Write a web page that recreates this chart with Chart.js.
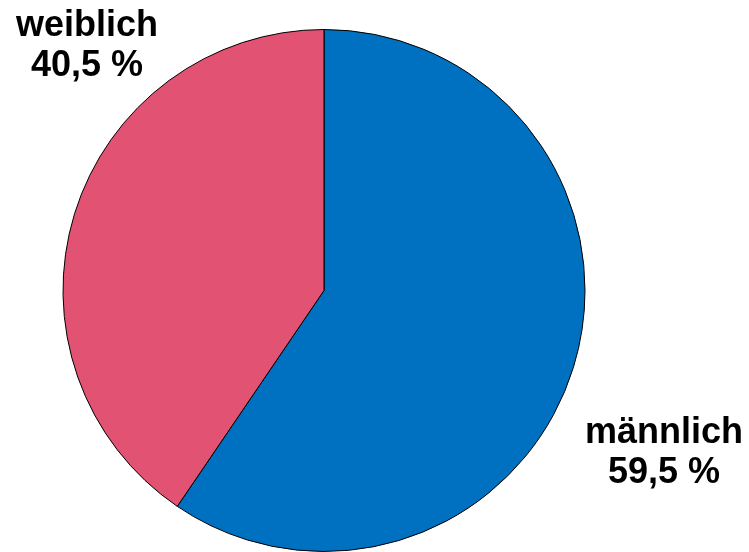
<!DOCTYPE html>
<html>
<head>
<meta charset="utf-8">
<script src="https://cdn.jsdelivr.net/npm/chart.js@4"></script>
<style>
  html, body { margin: 0; padding: 0; background: #fff; }
  #wrap { width: 749px; height: 552px; }
</style>
</head>
<body>
<div id="wrap"><canvas id="genderChart"></canvas></div>
<script>
// data
var categories = ["männlich", "weiblich"];
var shares = [59.5, 40.5];
var sliceColors = ["rgb(0, 112, 192)", "rgb(226, 83, 115)"];

// label text drawn next to the pie
var pieLabels = {
  id: "pieLabels",
  afterDraw: function(chart) {
    var ctx = chart.ctx;
    ctx.save();
    ctx.fillStyle = "#000";
    ctx.font = "bold 36px 'Liberation Sans', Arial, sans-serif";
    ctx.textAlign = "center";
    ctx.textBaseline = "alphabetic";
    var spots = [[664, 443], [87, 36]];
    for (var i = 0; i < categories.length; i++) {
      var txt = shares[i].toFixed(1).replace(".", ",") + " %";
      ctx.fillText(categories[i], spots[i][0], spots[i][1]);
      ctx.fillText(txt, spots[i][0], spots[i][1] + 40);
    }
    ctx.restore();
  }
};

var config = {
  type: "pie",
  data: {
    labels: categories,
    datasets: [{
      data: shares,
      backgroundColor: sliceColors,
      borderColor: "#000",
      borderWidth: 1
    }]
  },
  options: {
    responsive: true,
    maintainAspectRatio: false,
    animation: false,
    layout: { padding: { left: 62, right: 163, top: 29, bottom: 0 } },
    plugins: {
      legend: { display: false },
      tooltip: { enabled: false }
    }
  },
  plugins: [pieLabels]
};

new Chart(document.getElementById("genderChart").getContext("2d"), config);
</script>
</body>
</html>
